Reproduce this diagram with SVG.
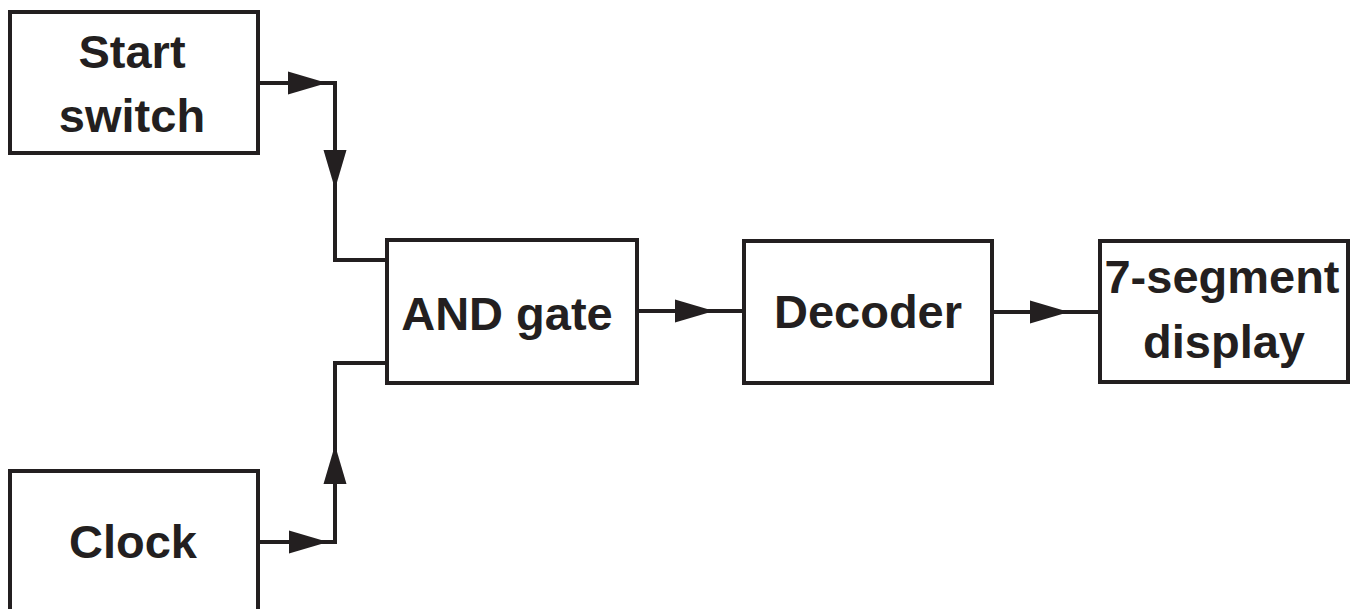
<svg xmlns="http://www.w3.org/2000/svg" width="1357" height="609" viewBox="0 0 1357 609">
<style>
.box{fill:#fff;stroke:#231f20;stroke-width:4}
.lbl{font-family:"Liberation Sans",Arial,sans-serif;font-weight:bold;font-size:47px;fill:#231f20;text-anchor:middle}
.wire{fill:none;stroke:#231f20;stroke-width:4}
.ah{fill:#231f20}
</style>
<defs>
<path id="ah" class="ah" d="M0,0 L-39,-11.5 L-39,11.5 Z"/>
</defs>
<rect width="1357" height="609" fill="#fff"/>
<g id="connectors">
<path class="wire" d="M258,83 H335 V260 H388"/>
<path class="wire" d="M258,542 H335 V363 H388"/>
<path class="wire" d="M637,311 H744"/>
<path class="wire" d="M992,312 H1100"/>
<use href="#ah" transform="translate(327,83)"/>
<use href="#ah" transform="translate(335,189) rotate(90)"/>
<use href="#ah" transform="translate(328,542)"/>
<use href="#ah" transform="translate(335,445) rotate(-90)"/>
<use href="#ah" transform="translate(714,311)"/>
<use href="#ah" transform="translate(1069,312)"/>
</g>
<g id="start">
<rect class="box" x="10" y="12" width="248" height="141"/>
<text class="lbl" x="132" y="68">Start</text>
<text class="lbl" x="132" y="132">switch</text>
</g>
<g id="clock">
<rect class="box" x="10" y="471" width="248" height="160"/>
<text class="lbl" x="133" y="558">Clock</text>
</g>
<g id="and">
<rect class="box" x="387" y="240" width="250" height="143"/>
<text class="lbl" x="507" y="330">AND gate</text>
</g>
<g id="decoder">
<rect class="box" x="744" y="241" width="248" height="142"/>
<text class="lbl" x="868" y="328">Decoder</text>
</g>
<g id="display">
<rect class="box" x="1100" y="241" width="248" height="141"/>
<text class="lbl" x="1222" y="293">7-segment</text>
<text class="lbl" x="1224" y="358">display</text>
</g>
</svg>
